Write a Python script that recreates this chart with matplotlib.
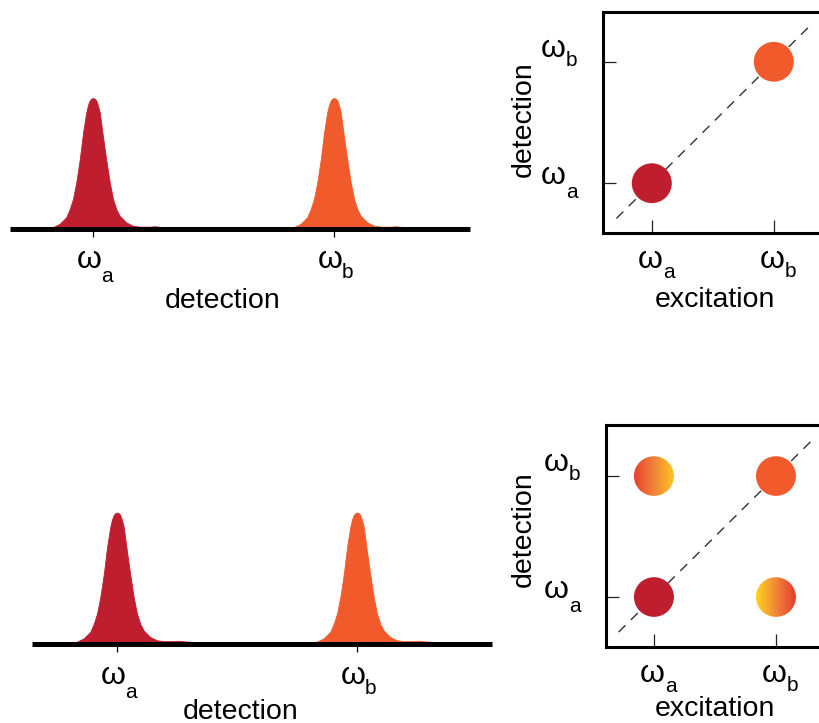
import numpy as np
import matplotlib
matplotlib.use("Agg")
import matplotlib.pyplot as plt
from matplotlib.patches import Circle
from matplotlib.transforms import offset_copy, blended_transform_factory
from matplotlib.colors import LinearSegmentedColormap

plt.rcParams['font.family'] = ['Liberation Sans', 'DejaVu Sans']

# ---------------- data ----------------
peak_labels = ['a', 'b']
peak_positions = [0.0, 1.0]
peak_colors = ['#BE1E2D', '#F15A2B']

# line-shape (offset in units of peak spacing, normalised height)
profile_offset = [-0.194, -0.166, -0.138, -0.111, -0.097, -0.083, -0.069, -0.055,
                  -0.041, -0.028, -0.021, -0.014, -0.007, 0.0, 0.007, 0.014, 0.021,
                  0.028, 0.041, 0.055, 0.069, 0.083, 0.097, 0.111, 0.138, 0.166,
                  0.194, 0.235, 0.256, 0.277, 0.304, 0.346, 0.387]
profile_height = [0.0, 0.015, 0.04, 0.09, 0.15, 0.23, 0.36, 0.53,
                  0.74, 0.89, 0.945, 0.98, 0.995, 1.0, 0.995, 0.98, 0.94,
                  0.89, 0.71, 0.53, 0.36, 0.23, 0.15, 0.10, 0.05, 0.025,
                  0.018, 0.018, 0.021, 0.017, 0.013, 0.006, 0.0]

# 2D spectra: (excitation, detection)
diag_exc = [0.0, 1.0]
diag_det = [0.0, 1.0]
diag_colors = ['#BE1E2D', '#F15A2B']
cross_exc = [0.0, 1.0]
cross_det = [1.0, 0.0]
cross_gradients = [['#E8402E', '#F0853A', '#FFC81E'],
                   ['#FFD41E', '#F0853A', '#E53830']]
diag_extent = [-0.29, 1.31]

W, H = 820, 723
fig = plt.figure(figsize=(W / 100, H / 100), dpi=100)


def px_axes(left, top, right, bottom):
    return fig.add_axes([left / W, 1 - bottom / H, (right - left) / W, (bottom - top) / H])


def omega(ax, trans, x, y, sub, w_dx, w_dy, s_dx, s_dy):
    ax.text(x, y, 'ω', transform=offset_copy(trans, fig=fig, x=w_dx, y=w_dy, units='dots'),
            ha='center', va='baseline', fontsize=23, clip_on=False)
    ax.text(x, y, sub, transform=offset_copy(trans, fig=fig, x=s_dx, y=s_dy, units='dots'),
            ha='left', va='baseline', fontsize=15, clip_on=False)


sub_drop = {'a': 14, 'b': 10}


def spectrum_panel(left, right, base_y, lab_dy, xlabel_x, xlabel_base):
    ax = px_axes(left, base_y - 140, right, base_y)
    ax.set_ylim(0, 140 / 131)
    off = np.array(profile_offset)
    hgt = np.array(profile_height)
    for pos, col in zip(peak_positions, peak_colors):
        ax.fill_between(pos + off, 0, hgt, color=col, lw=0.6, ec=col, zorder=2)
    span = right - left
    ax.set_xlim(peak_positions[0] - (xlabel_x[0]) / xlabel_x[2],
                peak_positions[0] - (xlabel_x[0]) / xlabel_x[2] + span / xlabel_x[2])
    for s in ['top', 'left', 'right']:
        ax.spines[s].set_visible(False)
    ax.spines['bottom'].set_linewidth(3.6)
    ax.spines['bottom'].set_capstyle('butt')
    ax.spines['bottom'].set_zorder(3)
    ax.set_yticks([])
    ax.set_xticks(peak_positions)
    ax.set_xticklabels([])
    ax.tick_params(axis='x', direction='out', length=6, width=0.9, color='black')
    ax.patch.set_alpha(0)
    for pos, lab in zip(peak_positions, peak_labels):
        omega(ax, ax.transData, pos, 0, lab, -4, -lab_dy, 8, -lab_dy - sub_drop[lab])
    fig.text(xlabel_base[0] / W, 1 - xlabel_base[1] / H, 'detection', ha='center',
             va='baseline', fontsize=20.5)
    return ax


# top-left: baseline at y=229, from x=10 to 470, peak a at x=93, spacing 241
spectrum_panel(10, 470, 229, 39, (83, 0, 241), (222.5, 308))
# bottom-left
spectrum_panel(32, 492, 643.5, 41, (85, 0, 240), (241, 719))


def gradient_circle(ax, cx, cy, r, cols):
    cmap = LinearSegmentedColormap.from_list('g', cols)
    grad = np.linspace(0, 1, 256).reshape(1, -1)
    im = ax.imshow(grad, cmap=cmap, extent=[cx - r, cx + r, cy - r, cy + r],
                   aspect='auto', zorder=4, interpolation='bilinear')
    circ = Circle((cx, cy), r, transform=ax.transData, fc='none', ec='none')
    ax.add_patch(circ)
    im.set_clip_path(circ)


def twod_panel(left, top, right, bottom, xlim, ylim, cross, ylab_pos, xlab_base):
    ax = px_axes(left, top, right, bottom)
    ax.set_xlim(*xlim)
    ax.set_ylim(*ylim)
    ax.plot(diag_extent, diag_extent, color='#333333', lw=1.0, dashes=(7, 5.5), zorder=2)
    r = 20 / 122
    for ex, de, col in zip(diag_exc, diag_det, diag_colors):
        ax.add_patch(Circle((ex, de), r, fc=col, ec='none', zorder=4))
    if cross:
        for ex, de, cols in zip(cross_exc, cross_det, cross_gradients):
            gradient_circle(ax, ex, de, r, cols)
    for s in ax.spines.values():
        s.set_linewidth(2.2)
    ax.set_xticks(peak_positions)
    ax.set_yticks(peak_positions)
    ax.set_xticklabels([])
    ax.set_yticklabels([])
    ax.tick_params(direction='in', length=9.5, width=0.9, color='#222222')
    tx = blended_transform_factory(ax.transData, ax.transAxes)
    ty = blended_transform_factory(ax.transAxes, ax.transData)
    xdrop = {'a': 10, 'b': 9}
    for pos, lab in zip(peak_positions, peak_labels):
        omega(ax, tx, pos, 0, lab, -2, -35, 11, -35 - xdrop[lab])
    ydy = {'a': (-1, -15), 'b': (5, -4)}
    for pos, lab in zip(peak_positions, peak_labels):
        omega(ax, ty, 0, pos, lab, -50, ydy[lab][0], -37, ydy[lab][1])
    fig.text(ylab_pos[0] / W, 1 - ylab_pos[1] / H, 'detection', rotation=90,
             ha='center', va='center', fontsize=20.5)
    fig.text(xlab_base[0] / W, 1 - xlab_base[1] / H, 'excitation', ha='center',
             va='baseline', fontsize=20.5)
    return ax


twod_panel(603, 12, 822.6, 233, (-0.4, 1.4), (-0.41, 1.41), False, (524, 119), (715, 307))
twod_panel(606, 425, 824.4, 647, (-0.393, 1.397), (-0.413, 1.422), True, (524, 529), (715, 716))

fig.savefig('out.png', dpi=100)
